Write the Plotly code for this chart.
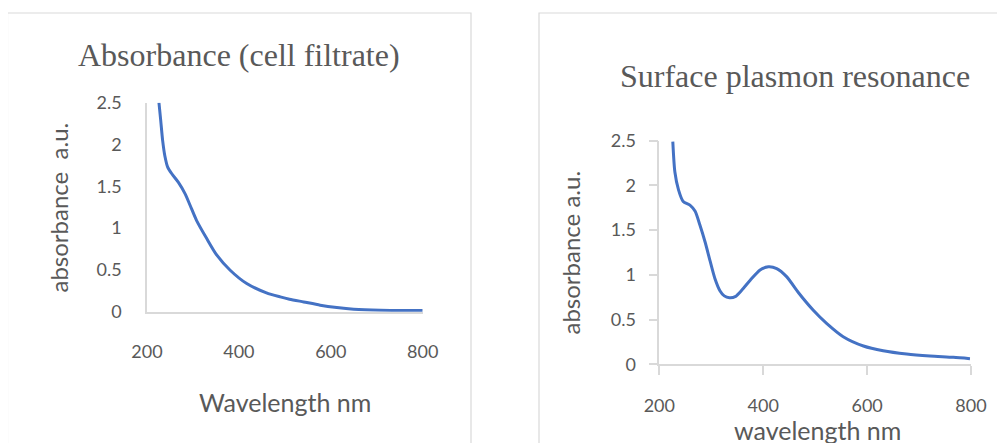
import plotly.graph_objects as go

# ---- data ----
wl_left = [226, 230, 234, 239, 245, 254, 268, 283, 294, 308, 330, 352, 381, 417, 460,
           490, 510, 541, 577, 613, 650, 708, 800]
abs_left = [2.50, 2.28, 2.05, 1.86, 1.73, 1.65, 1.55, 1.41, 1.27, 1.09, 0.875, 0.676,
            0.496, 0.337, 0.225, 0.177, 0.15, 0.117, 0.078, 0.05, 0.03, 0.018, 0.014]

wl_right = [226, 230, 237, 246, 259, 269, 278, 288, 298, 307, 317, 325, 335, 346, 359,
            375, 394, 410, 426, 445, 468, 496, 522, 554, 593, 631, 676, 721, 766, 798]
abs_right = [2.49, 2.15, 1.95, 1.82, 1.78, 1.71, 1.56, 1.37, 1.15, 0.96, 0.82, 0.765,
             0.745, 0.756, 0.83, 0.94, 1.054, 1.09, 1.07, 0.98, 0.80, 0.607, 0.458,
             0.309, 0.205, 0.152, 0.115, 0.093, 0.078, 0.063]

x_ticks = [200, 400, 600, 800]
y_ticks = [0, 0.5, 1, 1.5, 2, 2.5]
y_ticktext = ["0", "0.5", "1", "1.5", "2", "2.5"]

title_left = "Absorbance (cell filtrate)"
title_right = "Surface plasmon resonance"
xtitle_left = "Wavelength nm"
xtitle_right = "wavelength nm"
ytitle_left = "absorbance  a.u."
ytitle_right = "absorbance a.u."

# page body adds an 8px offset; size the figure to fit the window
OFF = 8
W, H = 1005 - OFF, 443 - OFF


def px(x):
    return (x - OFF) / W


def py(y):
    return (H - (y - OFF)) / H


LINE = "#4472C4"
AX = "#d9d9d9"
TXT = "#595959"
TICKFONT = dict(family="Lato", size=18, color=TXT)

fig = go.Figure()
fig.add_trace(go.Scatter(x=wl_left, y=abs_left, mode="lines", xaxis="x", yaxis="y",
                         line=dict(color=LINE, width=3, shape="spline", smoothing=0.7),
                         showlegend=False))
fig.add_trace(go.Scatter(x=wl_right, y=abs_right, mode="lines", xaxis="x2", yaxis="y2",
                         line=dict(color=LINE, width=3, shape="spline", smoothing=0.7),
                         showlegend=False))

common_x = dict(range=[200, 800], tickvals=x_ticks, showgrid=False, zeroline=False,
                showline=True, linecolor=AX, linewidth=1.5, tickfont=TICKFONT,
                automargin=False)
common_y = dict(range=[0, 2.5], tickvals=y_ticks, ticktext=y_ticktext, showgrid=False,
                zeroline=False, showline=True, linecolor=AX, linewidth=1.5,
                tickfont=TICKFONT, automargin=False)

fig.update_layout(
    template="none",
    width=W, height=H,
    margin=dict(l=0, r=0, t=0, b=0, pad=0),
    paper_bgcolor="white", plot_bgcolor="white",
    xaxis=dict(domain=[px(147), px(422.7)], anchor="y", ticks="",
               ticklabelstandoff=23, **common_x),
    yaxis=dict(domain=[py(311.7), py(102.7)], anchor="x", ticks="",
               ticklabelstandoff=20, **common_y),
    xaxis2=dict(domain=[px(659.3), px(971)], anchor="y2", ticks="outside", ticklen=9,
                tickcolor=AX, tickwidth=1.5, ticklabelstandoff=15, **common_x),
    yaxis2=dict(domain=[py(364.3), py(140.7)], anchor="x2", ticks="outside", ticklen=9,
                tickcolor=AX, tickwidth=1.5, ticklabelstandoff=9, **common_y),
    shapes=[
        dict(type="rect", xref="paper", yref="paper", x0=px(7.5), x1=px(471),
             y0=py(460), y1=py(13), line=dict(color=AX, width=1.2), fillcolor="rgba(0,0,0,0)"),
        dict(type="rect", xref="paper", yref="paper", x0=px(539), x1=px(1030),
             y0=py(460), y1=py(13), line=dict(color=AX, width=1.2), fillcolor="rgba(0,0,0,0)"),
    ],
    annotations=[
        dict(text=title_left, x=px(238.5), y=py(55), xref="paper", yref="paper",
             showarrow=False, xanchor="center", yanchor="middle",
             font=dict(family="Liberation Serif", size=32, color=TXT)),
        dict(text=title_right, x=px(795), y=py(76), xref="paper", yref="paper",
             showarrow=False, xanchor="center", yanchor="middle",
             font=dict(family="Liberation Serif", size=32, color=TXT)),
        dict(text=xtitle_left, x=px(285), y=py(402), xref="paper", yref="paper",
             showarrow=False, xanchor="center", yanchor="middle",
             font=dict(family="Lato", size=25, color=TXT)),
        dict(text=xtitle_right, x=px(817), y=py(430), xref="paper", yref="paper",
             showarrow=False, xanchor="center", yanchor="middle",
             font=dict(family="Lato", size=25, color=TXT)),
        dict(text=ytitle_left, x=px(58), y=py(207.5), xref="paper", yref="paper",
             showarrow=False, xanchor="center", yanchor="middle", textangle=-90,
             font=dict(family="Lato", size=24, color=TXT)),
        dict(text=ytitle_right, x=px(570), y=py(252.5), xref="paper", yref="paper",
             showarrow=False, xanchor="center", yanchor="middle", textangle=-90,
             font=dict(family="Lato", size=24, color=TXT)),
    ],
)

fig.write_html("out.html")
